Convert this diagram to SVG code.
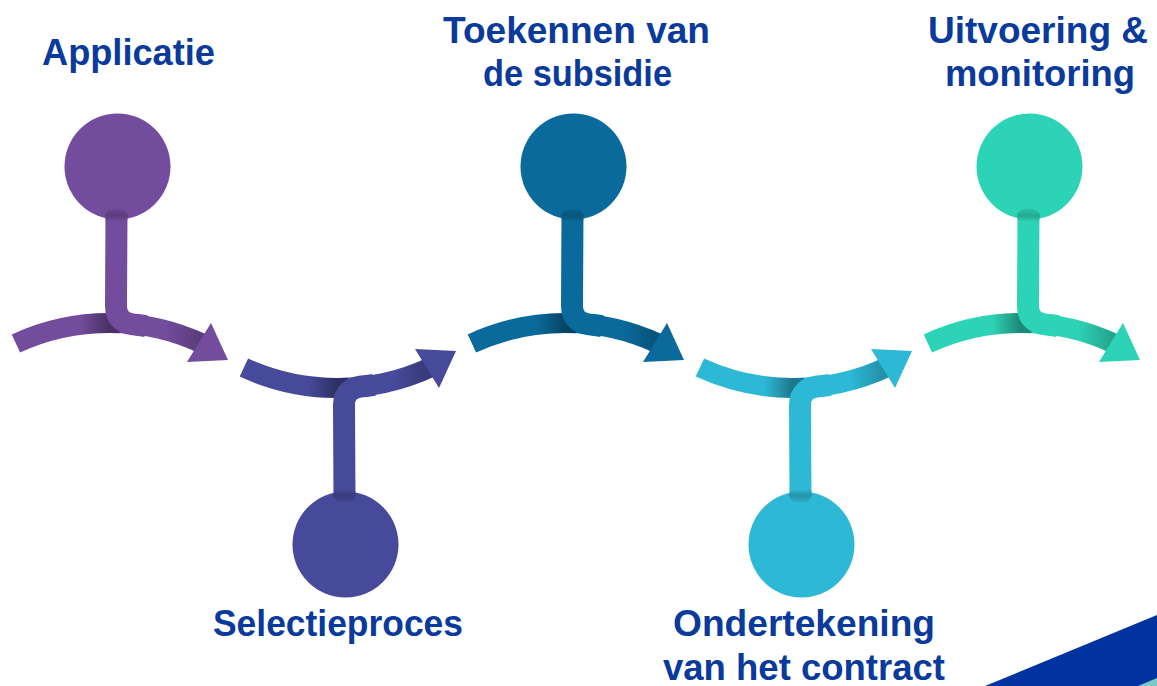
<svg xmlns="http://www.w3.org/2000/svg" xmlns:xlink="http://www.w3.org/1999/xlink" width="1157" height="686" viewBox="0 0 1157 686">
<style>
.lbl{font-family:"Liberation Sans",Arial,sans-serif;font-weight:bold;font-size:36px;fill:#0A3A9C;text-anchor:middle}
.arc{fill:none;stroke-width:20}
.stem{fill:none;stroke-width:22}
</style>
<defs>
<linearGradient id="shL" gradientUnits="userSpaceOnUse" x1="80" y1="0" x2="108" y2="0">
<stop offset="0" stop-color="#000" stop-opacity="0"/><stop offset="1" stop-color="#000" stop-opacity="0.35"/>
</linearGradient>
<linearGradient id="shR" gradientUnits="userSpaceOnUse" x1="165" y1="0" x2="200" y2="0">
<stop offset="0" stop-color="#000" stop-opacity="0"/><stop offset="1" stop-color="#000" stop-opacity="0.22"/>
</linearGradient>
<linearGradient id="shT" gradientUnits="userSpaceOnUse" x1="0" y1="208" x2="0" y2="222">
<stop offset="0" stop-color="#000" stop-opacity="0.06"/><stop offset="0.55" stop-color="#000" stop-opacity="0.2"/><stop offset="1" stop-color="#000" stop-opacity="0"/>
</linearGradient>
<g id="arcShape">
<path class="arc" stroke="currentColor" d="M15.9 343.5 A222 222 0 0 1 203 343.9"/>
<path class="arc" stroke="url(#shL)" d="M80 324.9 A222 222 0 0 1 120 323.3"/>
<path class="arc" stroke="url(#shR)" d="M160 328.9 A222 222 0 0 1 203 343.9"/>
<polygon fill="currentColor" points="211,323 228,360 187,362"/>
</g>
<g id="nodeShape">
<path class="stem" stroke="currentColor" d="M116.5 212 L116 306 Q116 324 138 324.9 L146 326.1"/>
<circle fill="currentColor" cx="117.5" cy="166.5" r="53"/>
<path fill="url(#shT)" d="M105 222 L105 216 Q106 208.5 116.5 208.5 Q127 208.5 128 216 L128 222 Z"/>
</g>
</defs>
<rect width="1157" height="686" fill="#fff"/>
<g id="connectors">
<use xlink:href="#arcShape" color="#734C9D"/>
<use xlink:href="#arcShape" color="#474A9A" transform="translate(228,711) scale(1,-1)"/>
<use xlink:href="#arcShape" color="#0A6A9C" transform="translate(456,0)"/>
<use xlink:href="#arcShape" color="#2DB9D6" transform="translate(684,711) scale(1,-1)"/>
<use xlink:href="#arcShape" color="#2DD3B6" transform="translate(912,0)"/>
</g>
<g id="step1">
<use xlink:href="#nodeShape" color="#734C9D"/>
<text class="lbl" x="128.5" y="65" textLength="173" lengthAdjust="spacingAndGlyphs">Applicatie</text>
</g>
<g id="step2">
<use xlink:href="#nodeShape" color="#474A9A" transform="translate(228,711) scale(1,-1)"/>
<text class="lbl" x="338" y="636" textLength="250" lengthAdjust="spacingAndGlyphs">Selectieproces</text>
</g>
<g id="step3">
<use xlink:href="#nodeShape" color="#0A6A9C" transform="translate(456,0)"/>
<text class="lbl" x="576.5" y="43" textLength="267" lengthAdjust="spacingAndGlyphs">Toekennen van</text>
<text class="lbl" x="577.5" y="86" textLength="189" lengthAdjust="spacingAndGlyphs">de subsidie</text>
</g>
<g id="step4">
<use xlink:href="#nodeShape" color="#2DB9D6" transform="translate(684,711) scale(1,-1)"/>
<text class="lbl" x="804" y="636" textLength="262" lengthAdjust="spacingAndGlyphs">Ondertekening</text>
<text class="lbl" x="804" y="680" textLength="282" lengthAdjust="spacingAndGlyphs">van het contract</text>
</g>
<g id="step5">
<use xlink:href="#nodeShape" color="#2DD3B6" transform="translate(912,0)"/>
<text class="lbl" x="1038" y="43" textLength="220" lengthAdjust="spacingAndGlyphs">Uitvoering &amp;</text>
<text class="lbl" x="1040" y="86" textLength="190" lengthAdjust="spacingAndGlyphs">monitoring</text>
</g>
<g id="corner">
<polygon fill="#0033A0" points="985,686 1157,615 1157,686"/>
<polygon fill="#7CC8C6" points="1138,686 1157,678 1157,686"/>
</g>
</svg>
